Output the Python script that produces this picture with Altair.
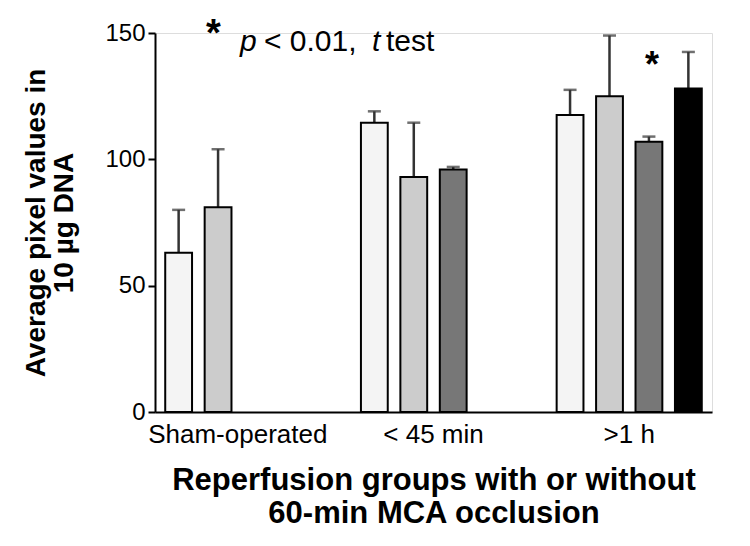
import altair as alt
import pandas as pd

# ---- data ----
group_order = ["Sham-operated", "< 45 min", ">1 h"]
series_order = ["S1", "S2", "S3", "S4"]
groups = ["Sham-operated", "Sham-operated",
          "< 45 min", "< 45 min", "< 45 min",
          ">1 h", ">1 h", ">1 h", ">1 h"]
series = ["S1", "S2", "S1", "S2", "S3", "S1", "S2", "S3", "S4"]
means = [63, 81, 114.5, 93, 96, 117.5, 125, 107, 128]
uppers = [80, 104, 119, 114.5, 97, 127.5, 149, 109, 142.5]
fills = ["#f4f4f4", "#cccccc", "#777777", "#000000"]

sig_group = [">1 h"]
sig_series = ["S3"]
sig_y = [137]

y_ticks = [0, 50, 100, 150]
y_title = ["Average pixel values in", "10 \u00b5g DNA"]
x_title = ["Reperfusion groups with or without", "60-min MCA occlusion"]

df = pd.DataFrame({"group": groups, "series": series, "mean": means, "upper": uppers})
sig = pd.DataFrame({"group": sig_group, "series": sig_series, "y": sig_y, "label": ["*"]})

FONT = "Liberation Sans"

x_enc = alt.X("group:N", sort=group_order,
              scale=alt.Scale(domain=group_order, paddingInner=0.194, paddingOuter=0.02),
              axis=alt.Axis(title=x_title, labelAngle=0, ticks=False,
                            labelFontSize=26, labelPadding=9, labelColor="black",
                            domainColor="black", domainWidth=2,
                            titleFontSize=31, titleFontWeight="bold", titleColor="black",
                            titlePadding=18, titleLineHeight=33, labelFont=FONT, titleFont=FONT))
xo_enc = alt.XOffset("series:N",
                     scale=alt.Scale(domain=series_order, paddingInner=0.32, paddingOuter=0.16))
y_axis = alt.Axis(values=y_ticks, title=y_title, grid=False,
                  labelFontSize=24, labelColor="black", labelFont=FONT, labelPadding=3,
                  tickSize=7, tickWidth=2, tickColor="black",
                  domainColor="black", domainWidth=2,
                  titleFontSize=28, titleFontWeight="bold", titleColor="black", titleFont=FONT,
                  titlePadding=26, titleLineHeight=28)
y_scale = alt.Scale(domain=[0, 150], nice=False)

base = alt.Chart(df)

bars = base.mark_bar(stroke="black", strokeWidth=2).encode(
    x=x_enc, xOffset=xo_enc,
    y=alt.Y("mean:Q", scale=y_scale, axis=y_axis),
    color=alt.Color("series:N", scale=alt.Scale(domain=series_order, range=fills), legend=None),
)

err = base.mark_rule(color="#333333", strokeWidth=2.5).encode(
    x=x_enc, xOffset=xo_enc,
    y=alt.Y("mean:Q", scale=y_scale, axis=y_axis),
    y2="upper:Q",
)

caps = base.mark_tick(color="#333333", thickness=2.5, size=13).encode(
    x=x_enc, xOffset=xo_enc,
    y=alt.Y("upper:Q", scale=y_scale, axis=y_axis),
)

star = alt.Chart(sig).mark_text(fontSize=36, fontWeight="bold", font=FONT, color="black",
                                baseline="middle", dx=3).encode(
    x=x_enc, xOffset=xo_enc,
    y=alt.Y("y:Q", scale=y_scale, axis=y_axis),
    text="label:N",
)

def note(txt, x, y, size=30, style="normal", weight="normal"):
    return alt.Chart(pd.DataFrame({"t": [txt]})).mark_text(
        fontSize=size, fontStyle=style, fontWeight=weight, font=FONT, color="black",
        align="left", baseline="alphabetic").encode(
        x=alt.value(x), y=alt.value(y), text="t:N")

notes = [
    note("*", 51, 13, size=38, weight="bold"),
    note("p", 85, 18, style="italic"),
    note("< 0.01,", 109, 18),
    note("t", 217, 18, style="italic"),
    note("test", 231, 18),
]

chart = alt.layer(err, caps, bars, star, *notes).properties(
    width=557, height=379,
    autosize=alt.AutoSizeParams(type="none"),
    padding={"left": 147, "top": 25, "right": 20, "bottom": 124},
).configure_view(stroke=None).configure(background="white")

chart.save("out.html", embed_options={"renderer": "svg", "actions": False})
